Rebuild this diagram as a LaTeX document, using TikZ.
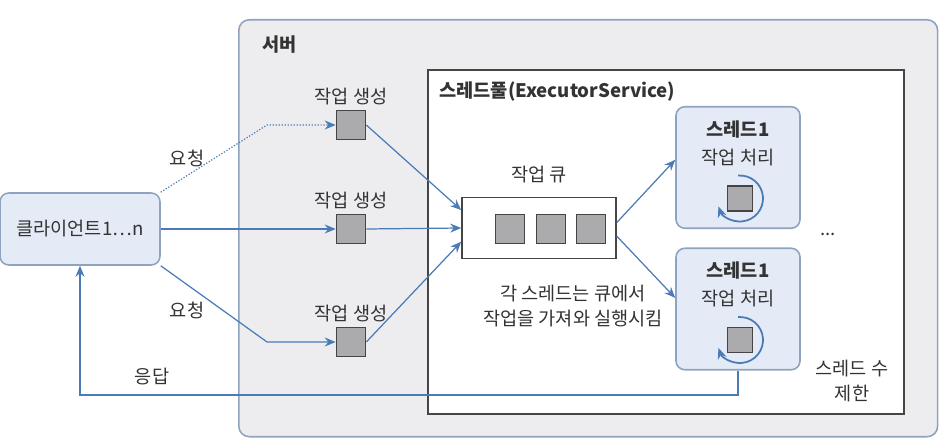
\documentclass[tikz,border=0pt]{standalone}
\usepackage{fontspec}
\setmainfont{Noto Sans CJK KR}
\usetikzlibrary{arrows.meta, positioning}
\definecolor{cblue}{HTML}{4A7BB7}
\definecolor{cboxfill}{HTML}{E4EBF6}
\definecolor{cedge}{HTML}{8EA3BF}
\definecolor{cserver}{HTML}{EDEDF0}
\definecolor{ctask}{HTML}{ABABAE}
\definecolor{ctaskedge}{HTML}{454545}
\definecolor{ctext}{HTML}{333333}
\newcommand{\labelsize}{\fontsize{10.6}{13}\selectfont}
\tikzset{
  every picture/.style={font=\labelsize, text=ctext, line width=0.7pt},
  softbox/.style={draw=cedge, fill=cboxfill, rounded corners=5pt, line width=0.9pt, inner sep=0pt},
  serverbox/.style={draw=cedge, fill=cserver, rounded corners=6pt, line width=0.9pt, inner sep=0pt, anchor=north west},
  poolbox/.style={draw=ctaskedge, fill=white, line width=0.9pt, inner sep=0pt, anchor=north west},
  task/.style={draw=ctaskedge, fill=ctask, minimum size=#1, inner sep=0pt, line width=0.9pt},
  task/.default=0.58cm,
  arrow/.style={-{Stealth[length=2.2mm, width=1.8mm]}, draw=cblue, line width=0.7pt},
  dotarrow/.style={arrow, densely dotted},
  title/.style={font=\labelsize\bfseries, anchor=west},
  note/.style={align=center},
}

\begin{document}
\begin{tikzpicture}[x=0.02cm, y=-0.02cm]
  \useasboundingbox (0,0) rectangle (945,445);
  % server and thread pool frames
  \node[serverbox, minimum width=13.98cm, minimum height=8.34cm] (server) at (238,19) {};
  \node[title] at (256,45) {서버};
  \node[poolbox, minimum width=9.52cm, minimum height=6.88cm] (pool) at (427,69) {};
  \node[title] at (433,92) {스레드풀(ExecutorService)};
  % client
  \node[softbox, minimum width=3.2cm, minimum height=1.44cm] (client) at (80,229) {클라이언트1…n};
  % task creation
  \foreach \i/\y in {1/125, 2/229, 3/342} {
    \node[task] (t\i) at (351,\y) {};
    \node[note] at (351,\y-28) {작업 생성};
  }
  % queue
  \node[draw=ctaskedge, fill=white, line width=0.9pt, minimum width=3.08cm, minimum height=1.22cm] (queue) at (539,228) {};
  \node[note] at (539,175) {작업 큐};
  \foreach \i/\x in {1/510, 2/551, 3/591}
    \node[task] (q\i) at (\x,229) {};
  \node[note] at (573,306) {각 스레드는 큐에서\\[1pt]작업을 가져와 실행시킴};
  % threads
  \foreach \i/\y in {1/167.5, 2/309} {
    \node[softbox, minimum width=2.48cm, minimum height=2.43cm] (th\i) at (738,\y) {};
    \node[font=\labelsize\bfseries] at (738,\y-38) {스레드1};
    \node[note] at (738,\y-10) {작업 처리};
    \node[task=0.5cm] (w\i) at (740,\y+31) {};
    \draw[arrow, line width=1pt] ([shift={(95:0.46cm)}]w\i.center) arc[start angle=95, end angle=-160, radius=0.46cm];
  }
  \node at (828,234) {...};
  \node[note] at (852,381) {스레드 수\\[1pt]제한};
  % requests
  \coordinate (d1) at (267,125);
  \coordinate (d3) at (267,342);
  \draw[dotarrow] (client.north east) -- (d1) -- (t1.west);
  \draw[arrow] (client.east) -- (t2.west);
  \draw[arrow] (client.south east) -- (d3) -- (t3.west);
  \node at (187,158) {요청};
  \node at (187,310) {요청};
  % tasks into queue, queue to threads
  \draw[arrow] (t1.east) -- (queue.167);
  \draw[arrow] (t2.east) -- (queue.west);
  \draw[arrow] (t3.east) -- (queue.190);
  \draw[arrow] (queue.4) -- (th1.173);
  \draw[arrow] (queue.-6) -- (th2.170);
  % response
  \coordinate (r1) at (80,395);
  \draw[arrow] (th2.south) |- (r1) -- (client.south);
  \node at (152,377) {응답};
\end{tikzpicture}
\end{document}
